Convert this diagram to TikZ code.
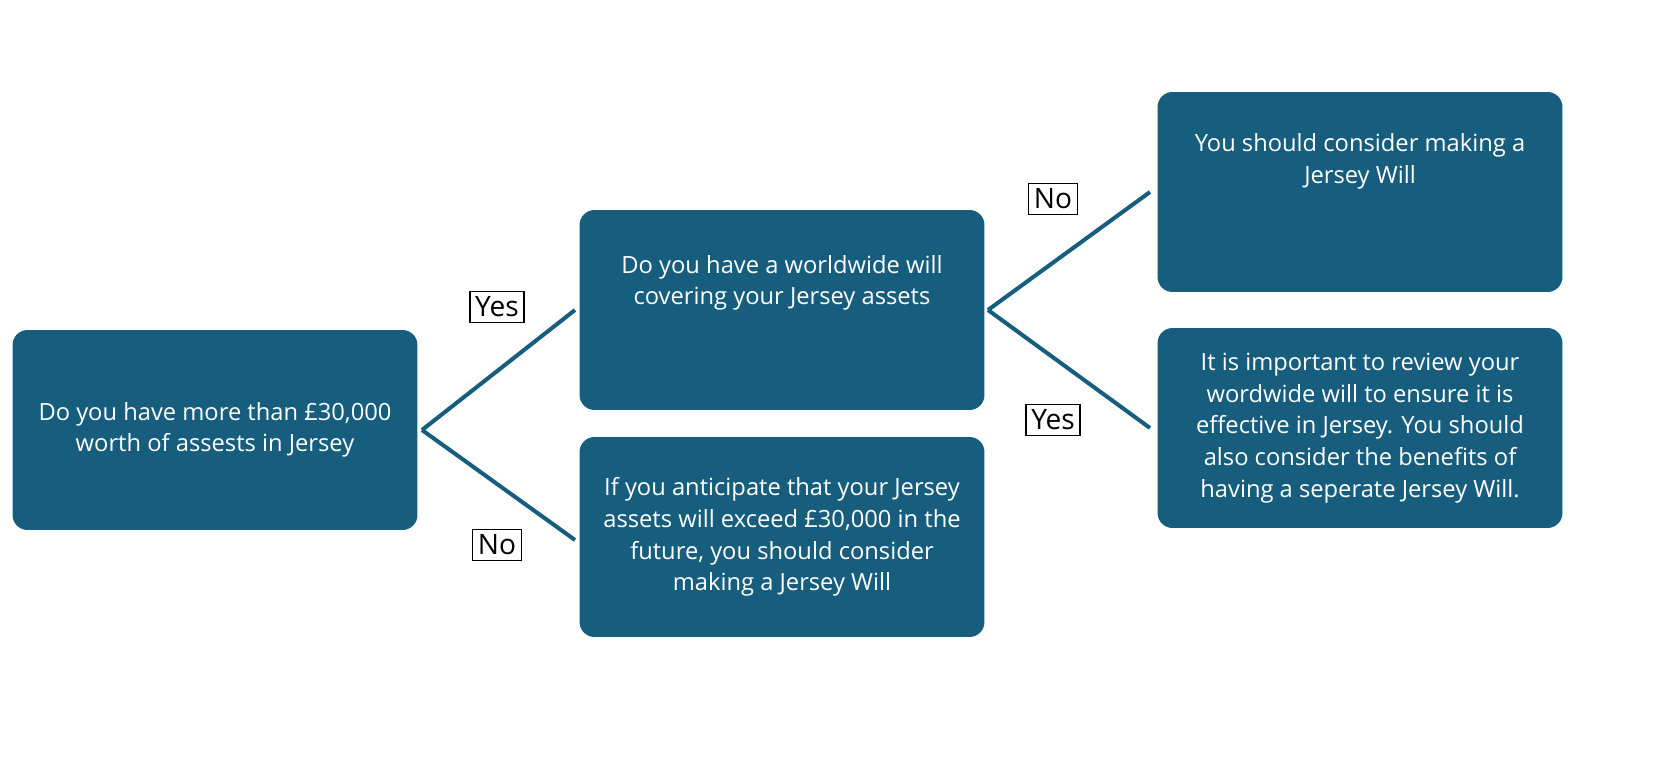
\documentclass[tikz,border=0pt]{standalone}
\usepackage{fontspec}
\setmainfont{Open Sans}
\usetikzlibrary{positioning}
\definecolor{boxblue}{HTML}{175E7E}
\begin{document}
\begin{tikzpicture}[x=0.02cm,y=-0.02cm]
\tikzset{stepbox/.style={fill=boxblue,rounded corners=0.3cm,minimum width=8.1cm,minimum height=4cm,
  text=white,align=center,font=\fontsize{13.5}{18}\selectfont},
  answer/.style={draw=black,fill=white,thick,inner sep=3pt,font=\fontsize{16}{18}\selectfont},
  branch/.style={draw=boxblue,line width=2.3pt}}
\useasboundingbox (0,0) rectangle (1655,780);

% question boxes
\node[stepbox] (assets) at (215,430) {Do you have more than £30,000\\worth of assests in Jersey};
\node[stepbox] (worldwide) at (782,310) {Do you have a worldwide will\\covering your Jersey assets\\[1.2em]};
\node[stepbox] (future) at (782,537) {If you anticipate that your Jersey\\assets will exceed £30,000 in the\\future, you should consider\\making a Jersey Will};
\node[stepbox] (makewill) at (1360,192) {You should consider making a\\Jersey Will\\[1.5em]};
\node[stepbox] (review) at (1360,428) {It is important to review your\\wordwide will to ensure it is\\effective in Jersey. You should\\also consider the benefits of\\having a seperate Jersey Will.};

% branches
\coordinate (fork1) at (422,430);
\coordinate (fork2) at (988,310);
\draw[branch] (fork1) -- (575,310);
\draw[branch] (fork1) -- (575,540);
\draw[branch] (fork2) -- (1150,192);
\draw[branch] (fork2) -- (1150,428);

% answers
\node[answer] (yes1) at (497,307) {Yes};
\node[answer] (no1) at (497,545) {No};
\node[answer] (no2) at (1053,199) {No};
\node[answer] (yes2) at (1053,420) {Yes};
\end{tikzpicture}
\end{document}
